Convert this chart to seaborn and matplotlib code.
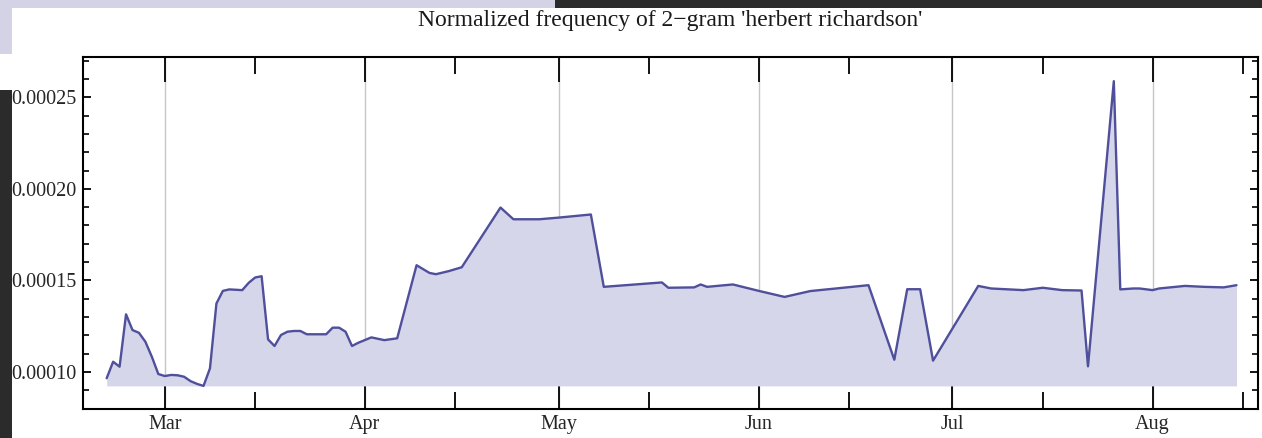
import pandas as pd
import numpy as np
import seaborn as sns
import matplotlib
matplotlib.use("Agg")
import matplotlib.pyplot as plt
import matplotlib.dates as mdates
from matplotlib.patches import Rectangle
from matplotlib.ticker import MultipleLocator, FormatStrFormatter

# -------------------------------
# Data
# -------------------------------
dates = [
    "2011-02-20", "2011-02-21", "2011-02-22", "2011-02-23", "2011-02-24",
    "2011-02-25", "2011-02-26", "2011-02-27", "2011-02-28", "2011-03-01",
    "2011-03-02", "2011-03-03", "2011-03-04", "2011-03-05", "2011-03-06",
    "2011-03-07", "2011-03-08", "2011-03-09", "2011-03-10", "2011-03-11",
    "2011-03-12", "2011-03-13", "2011-03-14", "2011-03-15", "2011-03-16",
    "2011-03-17", "2011-03-18", "2011-03-19", "2011-03-20", "2011-03-21",
    "2011-03-22", "2011-03-23", "2011-03-24", "2011-03-25", "2011-03-26",
    "2011-03-27", "2011-03-28", "2011-03-29", "2011-03-30", "2011-03-31",
    "2011-04-02", "2011-04-04", "2011-04-06", "2011-04-09", "2011-04-11",
    "2011-04-12", "2011-04-14", "2011-04-16", "2011-04-22", "2011-04-24",
    "2011-04-28", "2011-05-01", "2011-05-06", "2011-05-08", "2011-05-17",
    "2011-05-18", "2011-05-22", "2011-05-23", "2011-05-24", "2011-05-28",
    "2011-06-01", "2011-06-05", "2011-06-09", "2011-06-18", "2011-06-22",
    "2011-06-24", "2011-06-26", "2011-06-28", "2011-07-05", "2011-07-07",
    "2011-07-12", "2011-07-15", "2011-07-18", "2011-07-21", "2011-07-22",
    "2011-07-26", "2011-07-27", "2011-07-29", "2011-07-30", "2011-08-01",
    "2011-08-02", "2011-08-06", "2011-08-09", "2011-08-12", "2011-08-14",
]

frequency = [
    0.0000966, 0.0001056, 0.0001029, 0.0001315, 0.0001229,
    0.0001214, 0.0001165, 0.0001083, 0.0000989, 0.0000978,
    0.0000984, 0.0000982, 0.0000974, 0.0000950, 0.0000935,
    0.0000924, 0.0001020, 0.0001374, 0.0001443, 0.0001451,
    0.0001449, 0.0001447, 0.0001487, 0.0001516, 0.0001523,
    0.0001178, 0.0001142, 0.0001202, 0.0001220, 0.0001224,
    0.0001224, 0.0001206, 0.0001206, 0.0001206, 0.0001206,
    0.0001242, 0.0001242, 0.0001220, 0.0001142, 0.0001160,
    0.0001189, 0.0001174, 0.0001184, 0.0001583, 0.0001541,
    0.0001534, 0.0001551, 0.0001572, 0.0001898, 0.0001834,
    0.0001834, 0.0001843, 0.0001860, 0.0001465, 0.0001489,
    0.0001460, 0.0001462, 0.0001478, 0.0001465, 0.0001478,
    0.0001443, 0.0001410, 0.0001442, 0.0001474, 0.0001067,
    0.0001452, 0.0001452, 0.0001062, 0.0001470, 0.0001456,
    0.0001447, 0.0001460, 0.0001447, 0.0001445, 0.0001031,
    0.0002588, 0.0001451, 0.0001456, 0.0001456, 0.0001447,
    0.0001456, 0.0001470, 0.0001465, 0.0001462, 0.0001474,
]

title = "Normalized frequency of 2\u2212gram 'herbert richardson'"
y_major = [0.00010, 0.00015, 0.00020, 0.00025]

line_color = "#4f4f9c"
fill_color = "#d6d6ea"

# -------------------------------
# Build the table
# -------------------------------
df = pd.DataFrame({"date": pd.to_datetime(dates), "freq": frequency})

# -------------------------------
# Plot
# -------------------------------
sns.set_style("white")
plt.rcParams["font.family"] = ["Liberation Serif", "DejaVu Serif"]

W, H = 1262, 438
fig = plt.figure(figsize=(W / 100, H / 100), dpi=100)
ax = fig.add_axes([83 / W, 1 - 409 / H, (1258 - 83) / W, (409 - 57) / H])

# filled area down to the lowest value, then the line on top
ax.fill_between(df["date"], df["freq"], df["freq"].min(), color=fill_color, lw=0)
sns.lineplot(data=df, x="date", y="freq", ax=ax, color=line_color, lw=1.7)

ax.set_xlim(pd.Timestamp("2011-02-16 08:00"), pd.Timestamp("2011-08-17 08:00"))
ax.set_ylim(0.0000798, 0.000272)

# month gridlines and ticks
ax.xaxis.set_major_locator(mdates.MonthLocator())
ax.xaxis.set_major_formatter(mdates.DateFormatter("%b"))
ax.xaxis.set_minor_locator(mdates.MonthLocator(bymonthday=15))
ax.grid(axis="x", which="major", color="#c6c6c6", lw=1)
ax.grid(axis="y", visible=False)

ax.set_yticks(y_major)
ax.yaxis.set_major_formatter(FormatStrFormatter("%.5f"))
ax.yaxis.set_minor_locator(MultipleLocator(0.00001))

ax.tick_params(axis="x", which="major", direction="in", length=18, width=1.3,
               top=True, bottom=True, labelsize=14.5, pad=4, color="black")
ax.tick_params(axis="x", which="minor", direction="in", length=12, width=1.3,
               top=True, bottom=True, color="black")
ax.tick_params(axis="y", which="major", direction="in", length=6, width=1.3,
               left=True, right=True, labelsize=14.5, pad=5, color="black")
ax.tick_params(axis="y", which="minor", direction="in", length=4, width=1.2,
               left=True, right=True, color="black")

for spine in ax.spines.values():
    spine.set_color("black")
    spine.set_linewidth(1.5)

ax.set_xlabel("")
ax.set_ylabel("")
fig.text((83 + 1258) / 2 / W, 1 - 26 / H, title, ha="center", va="baseline",
         fontsize=17, color="#1a1a1a")

# -------------------------------
# Screenshot surroundings
# -------------------------------
def px_rect(x0, y0, x1, y1, color):
    fig.add_artist(Rectangle((x0 / W, 1 - y1 / H), (x1 - x0) / W, (y1 - y0) / H,
                             transform=fig.transFigure, color=color, lw=0, zorder=5))

px_rect(0, 0, 555, 8, "#d4d3e6")
px_rect(0, 0, 12, 54, "#d4d3e6")
px_rect(555, 0, W, 8, "#2b2b2b")
px_rect(0, 90, 12, H, "#2b2b2b")

fig.savefig("out.png", dpi=100)
